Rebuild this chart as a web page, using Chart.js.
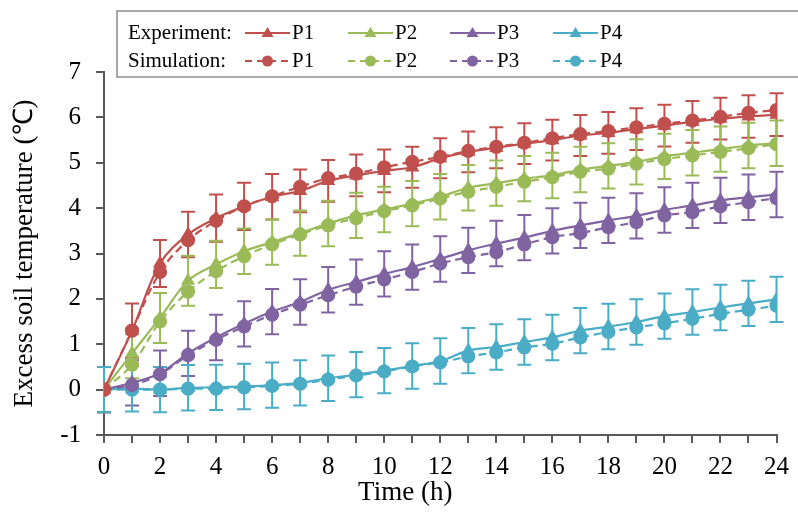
<!DOCTYPE html>
<html lang="en">
<head>
<meta charset="UTF-8">
<title>Excess soil temperature</title>
<script src="https://cdn.jsdelivr.net/npm/chart.js"></script>
<style>
  body { margin: 0; background: #fff; }
  .wrap { width: 798px; height: 512px; position: relative; }
</style>
</head>
<body>
<div class="wrap"><canvas id="soilChart"></canvas></div>
<script>
const hours = [0,1,2,3,4,5,6,7,8,9,10,11,12,13,14,15,16,17,18,19,20,21,22,23,24];
const seriesNames = ["P1", "P2", "P3", "P4"];

// measured (triangles, solid)
const expP1 = [0,1.3,2.78,3.42,3.78,4.04,4.25,4.38,4.6,4.72,4.82,4.9,5.1,5.24,5.33,5.42,5.5,5.6,5.66,5.74,5.82,5.9,5.97,6.02,6.06];
const expP2 = [0,0.8,1.58,2.4,2.76,3.05,3.25,3.45,3.66,3.84,3.97,4.1,4.25,4.45,4.55,4.65,4.72,4.85,4.93,5.02,5.14,5.22,5.3,5.38,5.43];
const expP3 = [0,0.15,0.36,0.8,1.15,1.45,1.72,1.93,2.2,2.37,2.55,2.7,2.88,3.07,3.22,3.35,3.5,3.62,3.73,3.83,3.96,4.06,4.17,4.24,4.3];
const expP4 = [0,0.02,0,0.04,0.05,0.07,0.1,0.15,0.25,0.33,0.42,0.52,0.63,0.86,0.94,1.05,1.15,1.3,1.39,1.49,1.62,1.71,1.81,1.9,1.99];

// simulated (circles, dashed)
const simP1 = [0,1.3,2.59,3.29,3.72,4.04,4.26,4.47,4.66,4.76,4.9,5.02,5.13,5.26,5.35,5.44,5.54,5.63,5.7,5.78,5.86,5.93,6.01,6.1,6.16];
const simP2 = [0,0.55,1.5,2.16,2.61,2.94,3.2,3.42,3.62,3.78,3.93,4.06,4.21,4.36,4.47,4.58,4.68,4.8,4.87,4.98,5.08,5.16,5.24,5.32,5.41];
const simP3 = [0,0.1,0.34,0.76,1.1,1.39,1.65,1.87,2.08,2.27,2.43,2.59,2.78,2.92,3.03,3.2,3.36,3.45,3.58,3.69,3.84,3.91,4.04,4.13,4.22];
const simP4 = [0,0,0,0.02,0.02,0.05,0.08,0.13,0.22,0.31,0.4,0.51,0.6,0.73,0.82,0.93,1.01,1.15,1.27,1.37,1.46,1.56,1.67,1.76,1.85];

// error bar half-widths on the measured series
const errP1 = [0.5,0.6,0.52,0.5,0.52,0.52,0.5,0.47,0.46,0.46,0.47,0.45,0.44,0.45,0.45,0.45,0.45,0.45,0.46,0.46,0.46,0.46,0.46,0.47,0.47];
const errP2 = [0.5,0.55,0.55,0.55,0.52,0.5,0.5,0.5,0.5,0.5,0.5,0.5,0.5,0.5,0.5,0.5,0.5,0.5,0.5,0.5,0.5,0.5,0.5,0.5,0.5];
const errP3 = [0.5,0.5,0.5,0.5,0.5,0.5,0.5,0.5,0.5,0.5,0.5,0.5,0.5,0.5,0.5,0.5,0.5,0.5,0.5,0.5,0.5,0.5,0.5,0.5,0.5];
const errP4 = [0.5,0.5,0.5,0.5,0.5,0.5,0.5,0.5,0.5,0.5,0.5,0.5,0.5,0.5,0.5,0.5,0.5,0.5,0.5,0.5,0.5,0.5,0.5,0.5,0.5];

const yTicks = [-1,0,1,2,3,4,5,6,7];

const colors = ["#C0504D", "#9BBB59", "#8064A2", "#4BACC6"];
const serif = "'Liberation Serif', 'Times New Roman', serif";

function points(vals) {
    return hours.map((h, i) => ({ x: h, y: vals[i] }));
}

function expSet(i, vals, errs) {
    return {
        label: "Experiment " + seriesNames[i],
        data: points(vals),
        errors: errs,
        borderColor: colors[i],
        backgroundColor: colors[i],
        borderWidth: 2.2,
        pointStyle: "triangle",
        pointRadius: 6,
        tension: 0.35,
        order: 10 + i
    };
}

function simSet(i, vals) {
    return {
        label: "Simulation " + seriesNames[i],
        data: points(vals),
        borderColor: colors[i],
        backgroundColor: colors[i],
        borderWidth: 2.2,
        borderDash: [8, 5],
        pointStyle: "circle",
        pointRadius: 6,
        tension: 0.35,
        order: i
    };
}

// vertical error bars with caps, placed through the scales
const errorBars = {
    id: "errorBars",
    beforeDatasetsDraw(chart) {
        const ctx = chart.ctx;
        const yScale = chart.scales.y;
        chart.data.datasets.forEach((ds, di) => {
            if (!ds.errors) return;
            const meta = chart.getDatasetMeta(di);
            ctx.save();
            ctx.strokeStyle = ds.borderColor;
            ctx.lineWidth = 2;
            meta.data.forEach((pt, j) => {
                const v = ds.data[j].y, e = ds.errors[j];
                const top = yScale.getPixelForValue(v + e);
                const bot = yScale.getPixelForValue(v - e);
                ctx.beginPath();
                ctx.moveTo(pt.x, top); ctx.lineTo(pt.x, bot);
                ctx.moveTo(pt.x - 7, top); ctx.lineTo(pt.x + 7, top);
                ctx.moveTo(pt.x - 7, bot); ctx.lineTo(pt.x + 7, bot);
                ctx.stroke();
            });
            ctx.restore();
        });
    }
};

// x title sits a little left of centre in the original
const xTitle = {
    id: "xTitle",
    afterDraw(chart) {
        const ctx = chart.ctx;
        const a = chart.chartArea;
        ctx.save();
        ctx.font = "27px " + serif;
        ctx.fillStyle = "#000";
        ctx.textAlign = "center";
        ctx.textBaseline = "middle";
        ctx.fillText("Time (h)", (a.left + a.right) / 2 - 35, 493);
        ctx.restore();
    }
};

// boxed two-row legend drawn over the top of the plot
const boxLegend = {
    id: "boxLegend",
    afterDraw(chart) {
        const ctx = chart.ctx;
        ctx.save();
        ctx.fillStyle = "#fff";
        ctx.fillRect(117, 11, 700, 66);
        ctx.strokeStyle = "#8c8c8c";
        ctx.lineWidth = 1.5;
        ctx.strokeRect(117, 11, 700, 66);

        ctx.font = "21px " + serif;
        ctx.fillStyle = "#000";
        ctx.textBaseline = "middle";
        ctx.textAlign = "left";
        const rows = [33, 61];
        ctx.fillText("Experiment:", 128, rows[0]);
        ctx.fillText("Simulation:", 128, rows[1]);

        const starts = [245, 348, 450, 553];
        starts.forEach((x0, i) => {
            ctx.strokeStyle = colors[i];
            ctx.fillStyle = colors[i];
            ctx.lineWidth = 2;
            // solid + triangle
            ctx.setLineDash([]);
            ctx.beginPath(); ctx.moveTo(x0, rows[0]); ctx.lineTo(x0 + 45, rows[0]); ctx.stroke();
            ctx.beginPath();
            ctx.moveTo(x0 + 22.5, rows[0] - 6);
            ctx.lineTo(x0 + 28.5, rows[0] + 4);
            ctx.lineTo(x0 + 16.5, rows[0] + 4);
            ctx.closePath(); ctx.fill();
            // dashed + circle
            ctx.setLineDash([7, 5]);
            ctx.beginPath(); ctx.moveTo(x0, rows[1]); ctx.lineTo(x0 + 45, rows[1]); ctx.stroke();
            ctx.setLineDash([]);
            ctx.beginPath(); ctx.arc(x0 + 22.5, rows[1], 5.5, 0, Math.PI * 2); ctx.fill();

            ctx.fillStyle = "#000";
            ctx.fillText(seriesNames[i], x0 + 47, rows[0]);
            ctx.fillText(seriesNames[i], x0 + 47, rows[1]);
        });
        ctx.restore();
    }
};

const datasets = [
    expSet(0, expP1, errP1), expSet(1, expP2, errP2), expSet(2, expP3, errP3), expSet(3, expP4, errP4),
    simSet(0, simP1), simSet(1, simP2), simSet(2, simP3), simSet(3, simP4)
];

new Chart(document.getElementById("soilChart"), {
    type: "line",
    data: { datasets: datasets },
    options: {
        responsive: true,
        maintainAspectRatio: false,
        animation: false,
        layout: { padding: { top: 72, right: 15, left: 9, bottom: 0 } },
        plugins: {
            legend: { display: false },
            tooltip: { enabled: false }
        },
        scales: {
            x: {
                type: "linear",
                min: 0, max: 24,
                afterBuildTicks: s => { s.ticks = hours.map(h => ({ value: h })); },
                afterFit: s => { s.height = 77; },
                border: { color: "#595959", width: 2 },
                grid: { drawOnChartArea: false, tickLength: 8, color: "#595959", lineWidth: 2 },
                ticks: {
                    autoSkip: false, maxRotation: 0,
                    color: "#000", font: { family: serif, size: 25 },
                    padding: 9,
                    callback: v => (v % 2 === 0 ? v : "")
                },
                title: { display: false }
            },
            y: {
                min: -1, max: 7,
                afterBuildTicks: s => { s.ticks = yTicks.map(v => ({ value: v })); },
                afterFit: s => { s.width = 95; },
                border: { color: "#595959", width: 2 },
                grid: { drawOnChartArea: false, tickLength: 8, color: "#595959", lineWidth: 2 },
                ticks: { color: "#000", font: { family: serif, size: 25 }, padding: 15 },
                title: { display: true, text: "Excess soil temperature (\u2103)", color: "#000", font: { family: serif, size: 27 }, padding: 0 }
            }
        }
    },
    plugins: [errorBars, boxLegend, xTitle]
});
</script>
</body>
</html>
